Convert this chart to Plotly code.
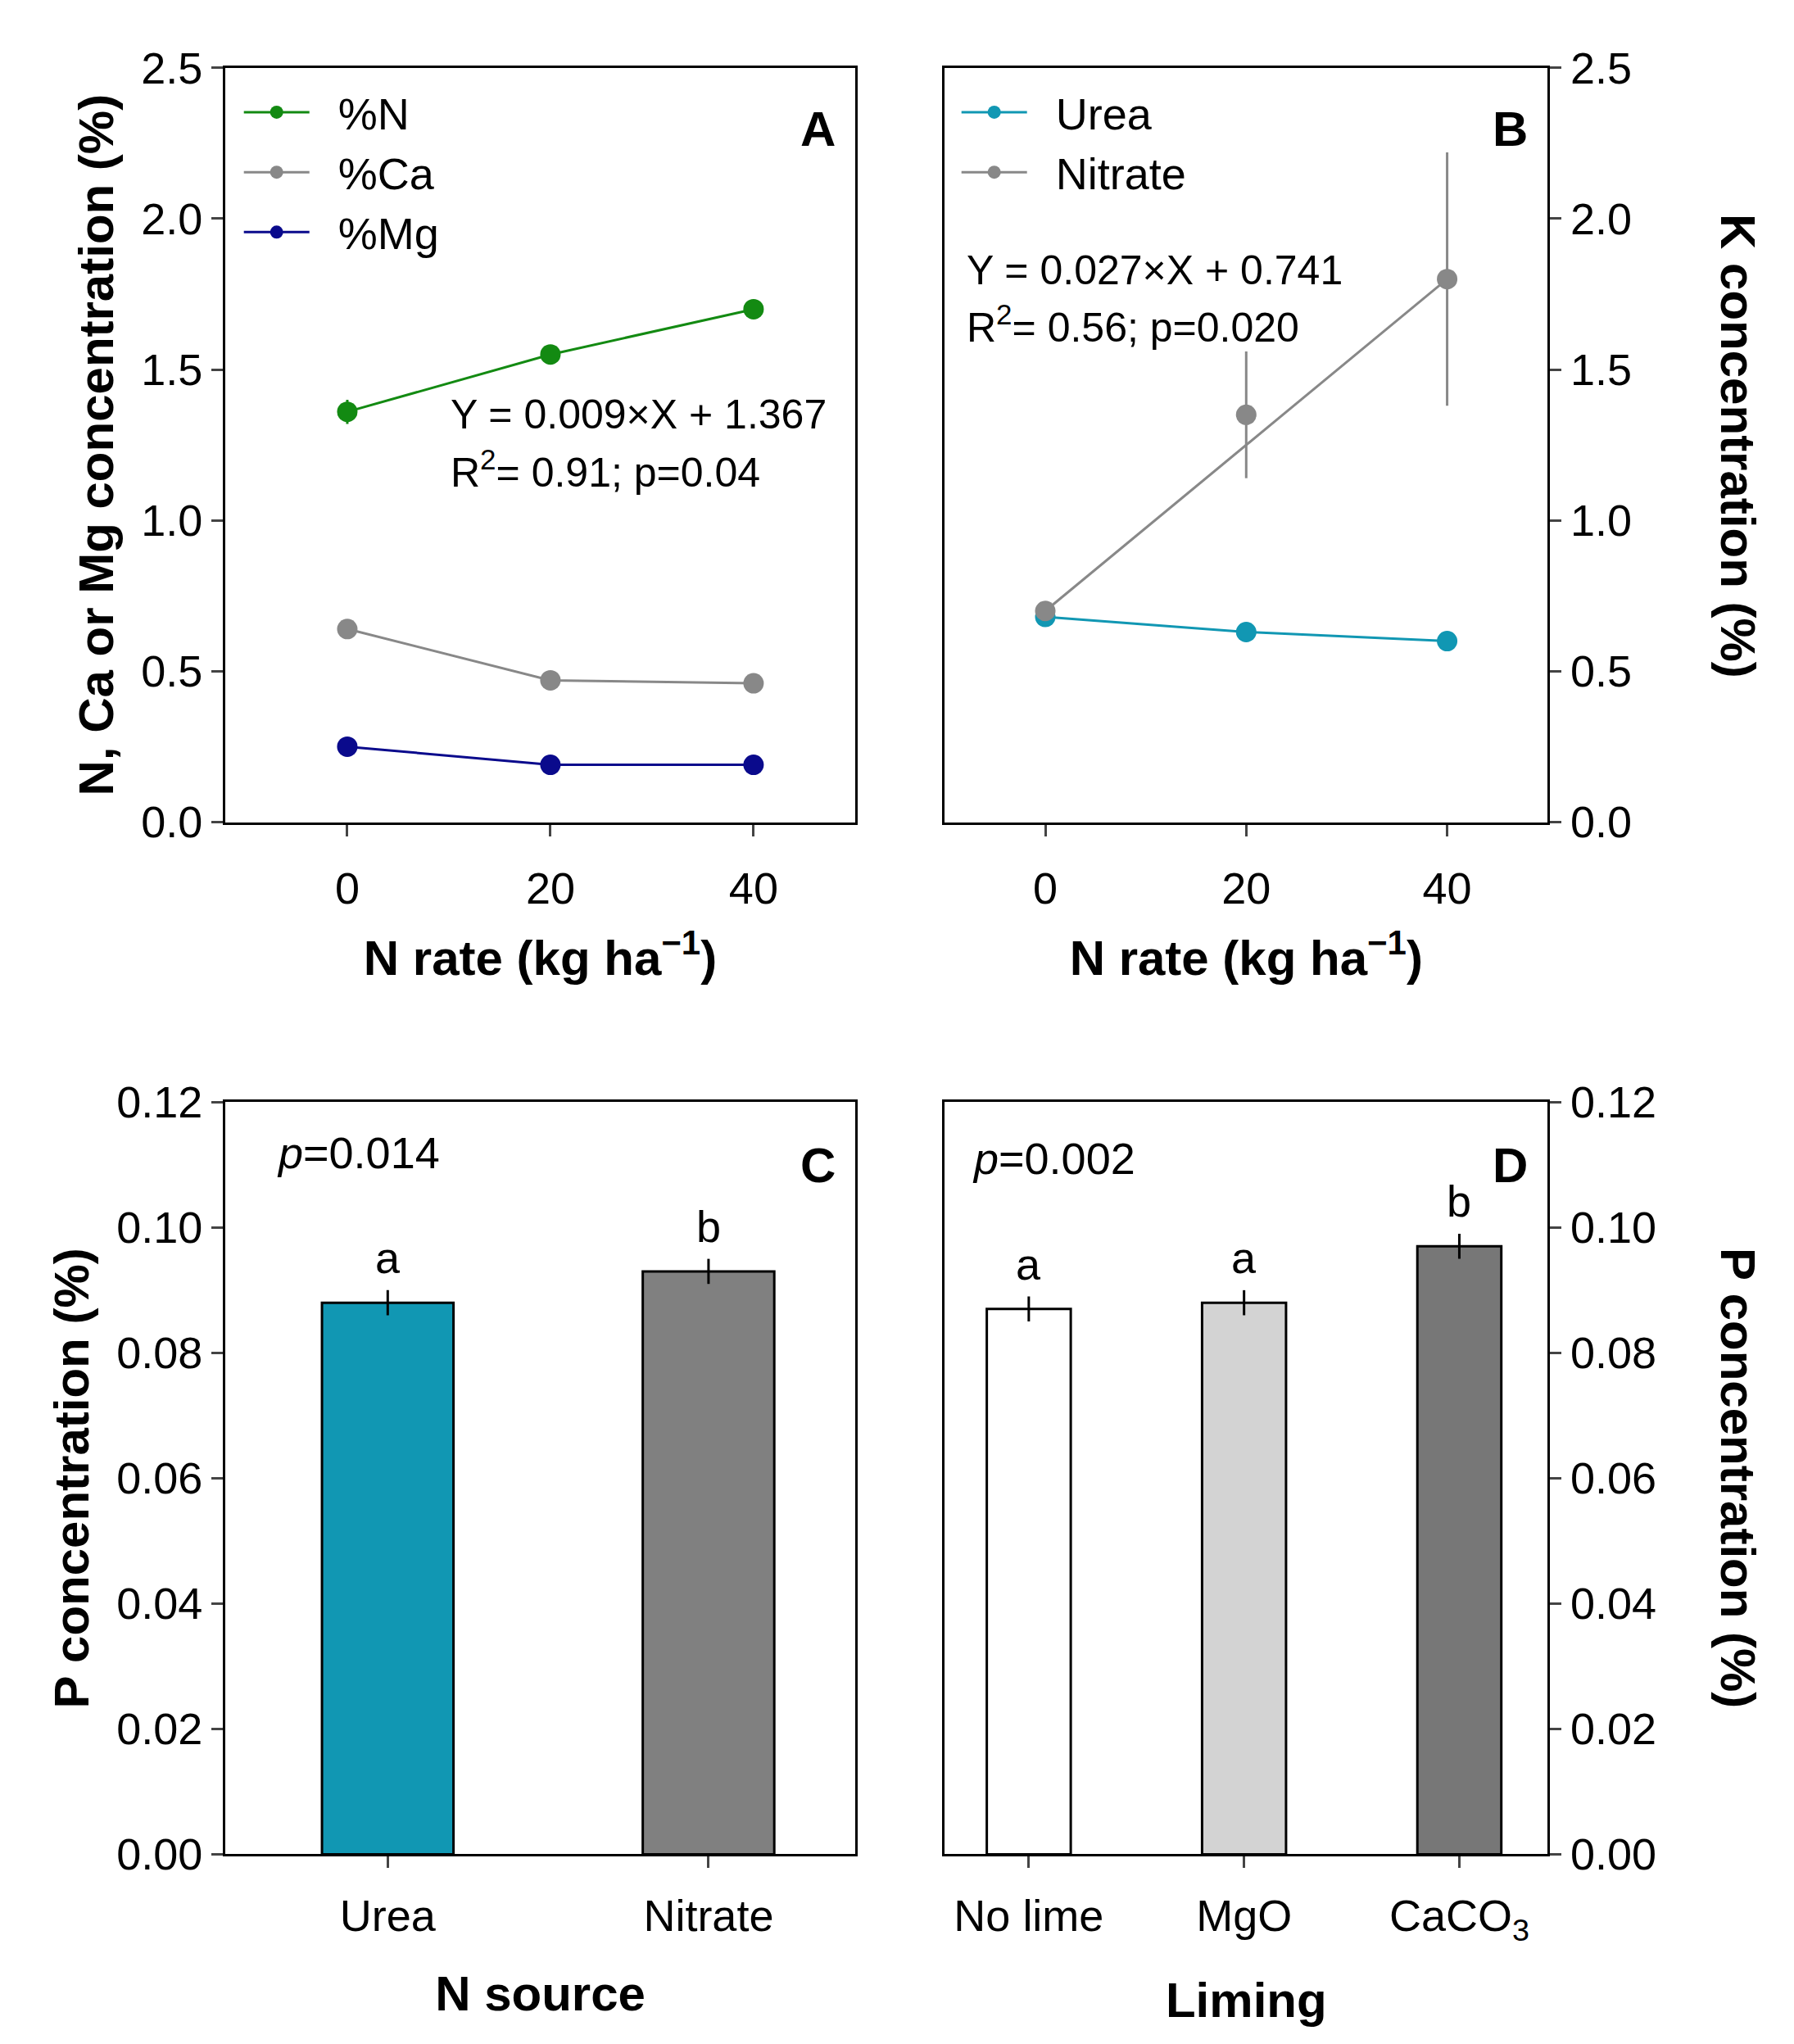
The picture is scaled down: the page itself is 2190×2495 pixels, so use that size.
import plotly.graph_objects as go

# ---- data ----
n_rate = [0, 20, 40]
pct_N = [1.36, 1.55, 1.70]
pct_N_err = [0.04, 0.02, 0.02]
pct_Ca = [0.64, 0.47, 0.46]
pct_Mg = [0.25, 0.19, 0.19]
k_urea = [0.68, 0.63, 0.60]
k_urea_err = [0.03, 0.03, 0.02]
k_nitrate = [0.70, 1.35, 1.80]
k_nitrate_err = [0.02, 0.21, 0.42]
fit_x = [0, 40]
k_nitrate_fit = [0.70, 1.80]

src_cats = ["Urea", "Nitrate"]
p_src = [0.088, 0.093]
p_src_err = [0.002, 0.002]
p_src_letters = ["a", "b"]
lime_cats = ["No lime", "MgO", "CaCO<sub>3</sub>"]
p_lime = [0.087, 0.088, 0.097]
p_lime_err = [0.002, 0.002, 0.002]
p_lime_letters = ["a", "a", "b"]

GREEN = "#138a12"; GRAY = "#888888"; NAVY = "#0a0a8c"; TEAL = "#1197b3"
FONT = "Liberation Sans"
TF = 54; TT = 60

fig = go.Figure()
mk = dict(size=25)
fig.add_trace(go.Scatter(x=n_rate, y=pct_N, error_y=dict(array=pct_N_err, color=GREEN, thickness=3, width=0),
                         mode="lines+markers", name="  %N", line=dict(color=GREEN, width=3), marker=dict(color=GREEN, **mk),
                         xaxis="x", yaxis="y", legend="legend"))
fig.add_trace(go.Scatter(x=n_rate, y=pct_Ca, mode="lines+markers", name="  %Ca", line=dict(color=GRAY, width=3),
                         marker=dict(color=GRAY, **mk), xaxis="x", yaxis="y", legend="legend"))
fig.add_trace(go.Scatter(x=n_rate, y=pct_Mg, mode="lines+markers", name="  %Mg", line=dict(color=NAVY, width=3),
                         marker=dict(color=NAVY, **mk), xaxis="x", yaxis="y", legend="legend"))

fig.add_trace(go.Scatter(x=n_rate, y=k_urea, error_y=dict(array=k_urea_err, color=TEAL, thickness=3, width=0),
                         mode="lines+markers", name="  Urea", line=dict(color=TEAL, width=3), marker=dict(color=TEAL, **mk),
                         xaxis="x2", yaxis="y2", legend="legend2"))
fig.add_trace(go.Scatter(x=fit_x, y=k_nitrate_fit, mode="lines", line=dict(color=GRAY, width=3), showlegend=False,
                         xaxis="x2", yaxis="y2"))
fig.add_trace(go.Scatter(x=n_rate, y=k_nitrate, error_y=dict(array=k_nitrate_err, color=GRAY, thickness=3, width=0),
                         mode="markers", name="Nitrate", marker=dict(color=GRAY, **mk), showlegend=False,
                         xaxis="x2", yaxis="y2"))
fig.add_trace(go.Scatter(x=[None], y=[None], mode="lines+markers", name="  Nitrate", line=dict(color=GRAY, width=3),
                         marker=dict(color=GRAY, **mk), xaxis="x2", yaxis="y2", legend="legend2"))

fig.add_trace(go.Bar(x=list(range(len(src_cats))), y=p_src, width=0.41, marker=dict(color=[TEAL, "#808080"], line=dict(color="black", width=3)),
                     error_y=dict(array=p_src_err, color="black", thickness=3, width=0), showlegend=False, xaxis="x3", yaxis="y3"))
fig.add_trace(go.Bar(x=list(range(len(lime_cats))), y=p_lime, width=0.39, marker=dict(color=["white", "#d3d3d3", "#777777"], line=dict(color="black", width=3)),
                     error_y=dict(array=p_lime_err, color="black", thickness=3, width=0), showlegend=False, xaxis="x4", yaxis="y4"))

ax = dict(showline=True, linecolor="black", linewidth=3, ticks="outside", ticklen=14, tickwidth=3,
          tickfont=dict(size=TF, color="black"), showgrid=False, zeroline=False, mirror=True, automargin=False)
yA = [0.601, 0.970]; yC = [0.096, 0.464]
xL = [0.122, 0.473]; xR = [0.523, 0.859]
fig.update_layout(
    width=2190, height=2495, plot_bgcolor="white", paper_bgcolor="white",
    font=dict(family=FONT, color="black"), margin=dict(l=0, r=0, t=0, b=0),
    xaxis=dict(ax, domain=xL, range=[-12, 50], tickvals=[0, 20, 40], ticklabelstandoff=18, anchor="y",
               title=dict(text="<b>N rate (kg ha<sup>−1</sup>)</b>", font=dict(size=TT), standoff=35)),
    yaxis=dict(ax, domain=yA, range=[0, 2.5], dtick=0.5, tickformat=".1f", anchor="x",
               title=dict(text="<b>N, Ca or Mg concentration (%)</b>", font=dict(size=TT), standoff=15)),
    xaxis2=dict(ax, domain=xR, range=[-10, 50], tickvals=[0, 20, 40], ticklabelstandoff=18, anchor="y2",
                title=dict(text="<b>N rate (kg ha<sup>−1</sup>)</b>", font=dict(size=TT), standoff=35)),
    yaxis2=dict(ax, domain=yA, range=[0, 2.5], dtick=0.5, tickformat=".1f", anchor="x2", side="right"),
    xaxis3=dict(ax, domain=xL, range=[-0.506, 1.457], tickvals=[0, 1], ticktext=src_cats, ticklabelstandoff=12, anchor="y3",
                title=dict(text="<b>N source</b>", font=dict(size=TT), standoff=45)),
    yaxis3=dict(ax, domain=yC, range=[0, 0.12], dtick=0.02, tickformat=".2f", anchor="x3",
                title=dict(text="<b>P concentration (%)</b>", font=dict(size=TT), standoff=15)),
    xaxis4=dict(ax, domain=xR, range=[-0.39, 2.41], tickvals=[0, 1, 2], ticktext=lime_cats, ticklabelstandoff=12, anchor="y4",
                title=dict(text="<b>Liming</b>", font=dict(size=TT), standoff=45)),
    yaxis4=dict(ax, domain=yC, range=[0, 0.12], dtick=0.02, tickformat=".2f", anchor="x4", side="right"),
    legend=dict(x=0.13, y=0.965, xanchor="left", yanchor="top", font=dict(size=TF), bgcolor="rgba(0,0,0,0)", itemwidth=80, tracegroupgap=0),
    legend2=dict(x=0.53, y=0.965, xanchor="left", yanchor="top", font=dict(size=TF), bgcolor="rgba(0,0,0,0)", itemwidth=80),
)
ann = []
def A(text, x, y, xr, yr, size=TF, xa="left", ya="middle", **k):
    ann.append(dict(text=text, x=x, y=y, xref=xr, yref=yr, showarrow=False, font=dict(size=size), xanchor=xa, yanchor=ya, **k))
A("<b>A</b>", 0.463, 0.94, "paper", "paper", size=TT, xa="right")
A("<b>B</b>", 0.849, 0.94, "paper", "paper", size=TT, xa="right")
A("<b>C</b>", 0.463, 0.433, "paper", "paper", size=TT, xa="right")
A("<b>D</b>", 0.849, 0.433, "paper", "paper", size=TT, xa="right")
A("<b>K concentration (%)</b>", 0.965, 0.785, "paper", "paper", size=TT, xa="center", textangle=90)
A("<b>P concentration (%)</b>", 0.965, 0.28, "paper", "paper", size=TT, xa="center", textangle=90)
A("Y = 0.009×X + 1.367", 10, 1.35, "x", "y", size=50)
A("R<sup>2</sup>= 0.91; p=0.04", 10, 1.17, "x", "y", size=50)
A("Y = 0.027×X + 0.741", -8, 1.83, "x2", "y2", size=50)
A("R<sup>2</sup>= 0.56; p=0.020", -8, 1.65, "x2", "y2", size=50)
A("<i>p</i>=0.014", -0.35, 0.112, "x3", "y3")
A("<i>p</i>=0.002", -0.27, 0.111, "x4", "y4")
for i, (v, e, l) in enumerate(zip(p_src, p_src_err, p_src_letters)):
    A(l, i, v + e, "x3", "y3", xa="center", ya="bottom", yshift=8)
for i, (v, e, l) in enumerate(zip(p_lime, p_lime_err, p_lime_letters)):
    A(l, i, v + e, "x4", "y4", xa="center", ya="bottom", yshift=8)
fig.update_layout(annotations=ann)
fig.write_html("out.html")
